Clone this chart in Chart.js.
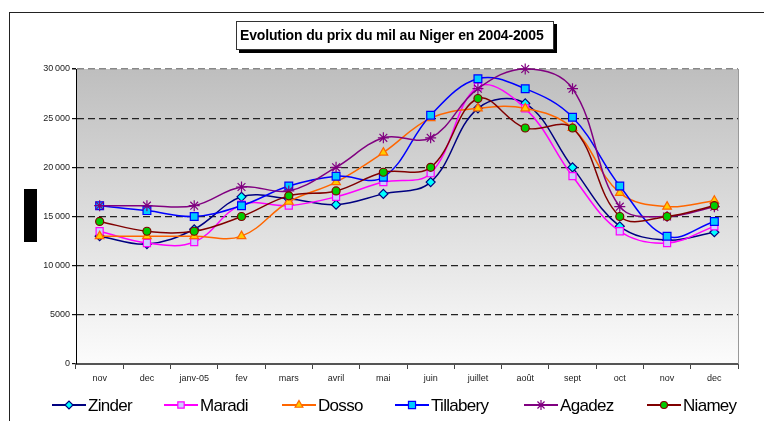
<!DOCTYPE html>
<html>
<head>
<meta charset="utf-8">
<script src="https://cdn.jsdelivr.net/npm/chart.js@4"></script>
<style>
  body { margin: 0; background: #fff; }
  #wrap { position: relative; width: 764px; height: 421px; overflow: hidden; }
  #frame { position: absolute; left: 9px; top: 12px; width: 800px; height: 460px; border: 1.5px solid #222; }
  #title { position: absolute; left: 236px; top: 21px; width: 313px; height: 27px; border: 1px solid #333; background: #fff;
    box-shadow: 3px 3px 0 #000; font: bold 14px "Liberation Sans", Arial, sans-serif; letter-spacing: -0.15px;
    line-height: 27px; padding-left: 3px; box-sizing: content-box; white-space: nowrap; }
  #ylabel { position: absolute; left: 24px; top: 189px; width: 13px; height: 53px; background: #000; }
  canvas { position: absolute; left: 0; top: 0; }
</style>
</head>
<body>
<div id="wrap">
  <div id="frame"></div>
  <canvas id="chart" width="764" height="421"></canvas>
  <div id="title">Evolution du prix du mil au Niger en 2004-2005</div>
  <div id="ylabel"></div>
</div>
<script>
const months = ['nov', 'dec', 'janv-05', 'fev', 'mars', 'avril', 'mai', 'juin', 'juillet', 'août', 'sept', 'oct', 'nov', 'dec'];

const zinder    = [13000, 12200, 13700, 17000, 16800, 16200, 17300, 18500, 26000, 26500, 20000, 14000, 12600, 13400];
const maradi    = [13500, 12300, 12400, 16200, 16100, 17000, 18500, 19400, 28200, 26000, 19100, 13500, 12300, 14000];
const dosso     = [13000, 13000, 13000, 13000, 16500, 18500, 21500, 25000, 26000, 26000, 24000, 17400, 16000, 16600];
const tillabery = [16100, 15600, 15000, 16100, 18100, 19100, 19000, 25300, 29000, 28000, 25100, 18100, 13000, 14500];
const agadez    = [16100, 16100, 16100, 18000, 17600, 20000, 23000, 23000, 28000, 30000, 28000, 16000, 15000, 16000];
const niamey    = [14500, 13500, 13500, 15000, 17100, 17600, 19500, 20000, 27000, 24000, 24000, 15000, 15000, 16100];

const FONT = '"Liberation Sans", Arial, sans-serif';

// one series = line colour + marker look
function series(label, data, line, pointStyle, fill, radius, order) {
  return {
    label: label,
    data: data,
    borderColor: line,
    borderWidth: 1.5,
    tension: 0.38,
    pointStyle: pointStyle,
    pointRadius: radius,
    pointBackgroundColor: fill,
    pointBorderColor: line,
    pointBorderWidth: 1.2,
    order: order,
    clip: 8
  };
}

const datasets = [
  series('Zinder', zinder, '#000080', 'rectRot', '#00ffff', 4.5, 5),
  series('Maradi', maradi, '#ff00ff', 'rect', '#ccccff', 5, 4),
  series('Dosso', dosso, '#ff6600', 'triangle', '#ffcc00', 5, 3),
  series('Tillabery', tillabery, '#0000ff', 'rect', '#00ccff', 5.5, 2),
  series('Agadez', agadez, '#800080', 'star', '#800080', 5.5, 1),
  series('Niamey', niamey, '#800000', 'circle', '#00cc00', 4, 0)
];

// grey gradient behind the plot, plus the plot's right edge
const plotBackground = {
  id: 'plotBackground',
  beforeDraw(chart) {
    const a = chart.chartArea;
    const ctx = chart.ctx;
    const g = ctx.createLinearGradient(0, a.top, 0, a.bottom);
    g.addColorStop(0, '#bebebe');
    g.addColorStop(1, '#fcfcfc');
    ctx.save();
    ctx.fillStyle = g;
    ctx.fillRect(a.left, a.top, a.right - a.left, a.bottom - a.top);
    ctx.restore();
  },
  beforeDatasetsDraw(chart) {
    const a = chart.chartArea;
    const ctx = chart.ctx;
    ctx.save();
    ctx.strokeStyle = '#999';
    ctx.lineWidth = 1;
    ctx.beginPath();
    ctx.moveTo(a.right + 0.5, a.top);
    ctx.lineTo(a.right + 0.5, a.bottom);
    ctx.stroke();
    ctx.restore();
  }
};

// legend row under the axis: line, marker, name
const legendRow = {
  id: 'legendRow',
  afterDraw(chart) {
    const ctx = chart.ctx;
    const starts = [52, 164, 282, 395, 524, 647];
    const y = 405;
    ctx.save();
    datasets.forEach(function (ds, i) {
      const x0 = starts[i];
      ctx.strokeStyle = ds.borderColor;
      ctx.lineWidth = 2;
      ctx.beginPath();
      ctx.moveTo(x0, y);
      ctx.lineTo(x0 + 34, y);
      ctx.stroke();
      ctx.fillStyle = ds.pointBackgroundColor;
      ctx.strokeStyle = ds.pointBorderColor;
      ctx.lineWidth = 1.2;
      Chart.helpers.drawPoint(ctx, { pointStyle: ds.pointStyle, radius: ds.pointRadius - 0.5, borderWidth: 1.2 }, x0 + 17, y);
      ctx.fillStyle = '#000';
      ctx.font = '17px ' + FONT;
      if ('letterSpacing' in ctx) ctx.letterSpacing = '-0.7px';
      ctx.textBaseline = 'middle';
      ctx.fillText(ds.label, x0 + 36, y + 1);
      if ('letterSpacing' in ctx) ctx.letterSpacing = '0px';
    });
    ctx.restore();
  }
};

new Chart(document.getElementById('chart'), {
  type: 'line',
  data: { labels: months, datasets: datasets },
  plugins: [plotBackground, legendRow],
  options: {
    responsive: false,
    animation: false,
    layout: { padding: { top: 69, right: 26, bottom: 27, left: 0 } },
    plugins: { legend: { display: false }, title: { display: false }, tooltip: { enabled: false } },
    scales: {
      x: {
        offset: true,
        grid: { drawOnChartArea: false, offset: true, tickLength: 5, tickColor: '#444', tickWidth: 1 },
        border: { color: '#555', width: 2 },
        ticks: { color: '#222', font: { family: FONT, size: 9 }, padding: 4, maxRotation: 0, autoSkip: false },
        afterFit(scale) { scale.height = 30; }
      },
      y: {
        min: 0,
        max: 30000,
        grid: {
          color: (c) => c.tick && c.tick.value === 30000 ? '#888' : '#222',
          lineWidth: (c) => c.tick && c.tick.value === 30000 ? 1.5 : 1.2,
          tickLength: 4,
          tickColor: '#111',
          tickBorderDash: [0, 0]
        },
        border: { color: '#000', width: 1, dash: [7, 4] },
        ticks: {
          stepSize: 5000,
          color: '#222',
          padding: 2,
          font: { family: FONT, size: 9 },
          callback: (v) => v >= 10000 ? String(v).slice(0, -3) + '\u2009' + String(v).slice(-3) : String(v)
        },
        afterFit(scale) { scale.width = 76; }
      }
    }
  }
});
</script>
</body>
</html>
